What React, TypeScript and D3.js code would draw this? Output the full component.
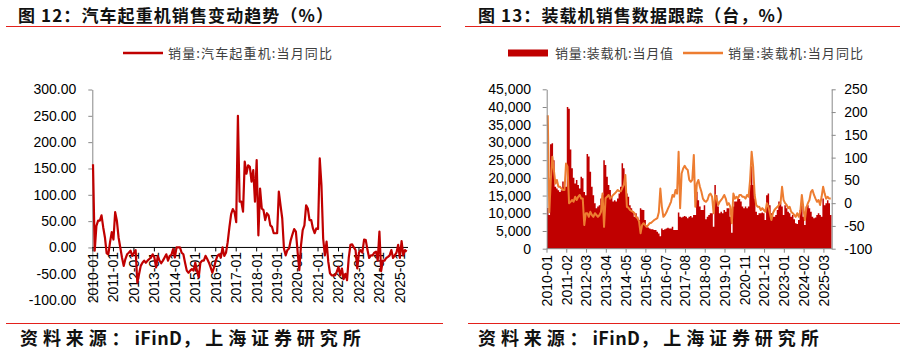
import { useEffect, useRef } from "react"
import * as d3 from "d3"

// 汽车起重机销量当月同比（%），2010-01 ~ 2025-05
const craneYoY = [
  158, -6, 41, 51, 51, 61, 38, 19, -11, -13, 10, 29, 15, 67, 51, 19, 0, -19, -35, -22,
  -13, -10, -6, -16, -10, -5, -67, -51, -35, -29, -25, -29, -25, -22, -19, -13, -19, -38, -16, -25,
  -30, -25, -19, -13, -25, -16, -14, -3, -19, 0, 0, 0, -10, -13, -29, -44, -48, -44, -41, -44,
  -29, -44, -57, -29, -25, -25, -16, -22, -29, -38, -48, -38, -25, -16, -13, -19, 0, -16, -10, 10,
  38, 63, 73, 67, 48, 250, 87, 87, 68, 163, 140, 156, 153, 125, 147, 87, 166, 23, 112, 74,
  71, 52, 65, 61, 42, 39, 27, 27, 27, 106, 80, 55, -2, -15, -5, -2, 14, 25, 35, 30,
  -8, -43, 4, 33, 42, 80, 74, 52, 52, 36, 27, 36, 35, 169, 118, 17, -15, 11, -27, -49,
  -53, -53, -53, -46, -37, -53, -40, -60, -50, -62, -20, 5, 6, 0, -5, -40, -10, -5, -10, 15,
  14, -5, -20, -15, -15, -10, -8, -25, 30, -45, -25, -25, -20, -18, -15, -5, -20, -15, -10, 5,
  -20, 12, -15, -5, -8,
]
const craneTicks = [
  "2010-01", "2011-01", "2012-01", "2013-01", "2014-01", "2015-01", "2016-01", "2017-01",
  "2018-01", "2019-01", "2020-01", "2021-01", "2022-01", "2023-01", "2024-01", "2025-01",
]
const craneYTicks = [-100, -50, 0, 50, 100, 150, 200, 250, 300]

// 装载机销量当月值（台），2010-01 ~ 2025-07
const loaderSales = [
  11500, 9500, 29500, 29800, 25000, 17500, 17000, 16500, 16000, 16500, 19000, 17500, 17500, 40000, 39500, 28000, 22700, 20000, 18400, 19400,
  18000, 17000, 20300, 19900, 16000, 15100, 26700, 26000, 21700, 17500, 15100, 12800, 11400, 11900, 12300, 14200, 15100, 25000, 23600, 20300,
  18000, 16600, 14700, 13300, 13700, 13300, 14200, 15600, 17500, 24100, 22700, 18900, 15600, 14700, 12300, 11400, 10400, 9000, 10000, 9000,
  8100, 11400, 11000, 10900, 8100, 6500, 6000, 5700, 5500, 5500, 5300, 5300, 4800, 4300, 3500, 5700, 5300, 5500, 5700, 5900,
  5700, 5700, 6200, 5300, 5300, 5300, 10200, 9000, 8800, 9000, 9200, 9000, 8600, 9000, 9200, 8800, 9500, 9500, 16100, 13700,
  11900, 10900, 10900, 12300, 8300, 9000, 9500, 10000, 10000, 6200, 18000, 15100, 11900, 10000, 10400, 10000, 10900, 10400, 11400, 11400,
  9000, 4500, 11900, 13300, 13300, 14700, 14000, 13300, 11900, 11400, 11900, 11400, 11900, 18000, 23300, 18000, 14200, 10400, 9500, 10000,
  10000, 10200, 10000, 8100, 15100, 15600, 12300, 10000, 9000, 9000, 9500, 10900, 13300, 13000, 11900, 9500, 12300, 11400, 10400, 10000,
  9000, 9500, 8300, 7200, 7000, 8100, 10900, 12300, 9000, 6700, 11900, 12300, 11400, 10400, 9000, 8600, 8800, 9500, 10000, 9500,
  9000, 14200, 12300, 12800, 13700, 12800, 9500,
]
// 装载机销量当月同比（%）
const loaderYoY = [
  193, -20, 51, 102, 73, 43, 51, 36, 36, 32, 29, 29, 87, 80, 0, 3, 7, 3, 14, 7,
  14, 18, 10, 10, -48, -22, -22, -30, -19, -26, -30, -22, -26, -30, -26, -19, 21, -52, 11, 14,
  18, 10, 14, 18, 21, 25, 29, 26, 26, 33, 40, 62, -8, -10, -15, -17, -19, -22, -30, -33,
  -40, -66, -48, -44, -48, -52, -48, -44, -43, -40, -37, -35, -33, -20, 32, -8, -30, -26, -20, -12,
  -5, 3, 18, 14, 29, 21, 113, -11, 65, 76, 82, 76, 73, 51, 47, 51, 106, -8, 43, 51,
  36, 25, 10, 5, 3, 7, 18, 21, 14, -22, 18, 10, -4, 3, 7, 12, 18, 10, -4, 0,
  -8, -44, 21, 10, 14, 10, 18, 18, 14, 14, 10, 18, 14, 51, 113, 80, 18, -4, -8, -8,
  -15, -11, -15, -19, 0, -8, -22, -37, -22, -15, -11, -8, -4, 0, 36, 7, 0, -4, -11, -8,
  -19, -22, -26, -30, -22, -30, -19, 18, -10, -37, -10, 0, 7, 25, 29, 18, 10, 3, 7, -4,
  14, 36, 21, 10, 14, 10, 10,
]
const loaderTicks = [
  "2010-01", "2011-02", "2012-03", "2013-04", "2014-05", "2015-06", "2016-07", "2017-08",
  "2018-09", "2019-10", "2020-11", "2021-12", "2023-01", "2024-02", "2025-03",
]
const loaderYTicks = [0, 5000, 10000, 15000, 20000, 25000, 30000, 35000, 40000, 45000]
const loaderYoYTicks = [-100, -50, 0, 50, 100, 150, 200, 250]

const CJK = "'Noto Sans CJK SC', 'Noto Sans', sans-serif"
const NUM = "'Liberation Sans', Arial, sans-serif"
const DARK_RED = "#C00000"
const ORANGE = "#ED7D31"
const RULE_RED = "#E3201B"
const AXIS_GRAY = "#888888"

export default function App() {
  const svgRef = useRef<SVGSVGElement>(null)

  useEffect(() => {
    if (!svgRef.current) return
    const svg = d3.select(svgRef.current)
    svg.selectAll("*").remove()

    // ---- headers and footers ----
    const header = (x: number, len: number, text: string) =>
      svg.append("text")
        .attr("x", x).attr("y", 21.5)
        .attr("font-family", CJK).attr("font-weight", 700).attr("font-size", 17)
        .attr("textLength", len).attr("lengthAdjust", "spacing")
        .attr("fill", "#111").text(text)
    header(18, 315, "图 12：汽车起重机销售变动趋势（%）")
    header(478, 315, "图 13：装载机销售数据跟踪（台，%）")

    const rule = (x1: number, x2: number, y: number) =>
      svg.append("line").attr("x1", x1).attr("x2", x2).attr("y1", y).attr("y2", y)
        .attr("stroke", RULE_RED).attr("stroke-width", 1.2)
    rule(6, 441, 26.5)
    rule(465, 900, 26.5)
    rule(6, 443, 323.5)
    rule(468, 900, 323.5)

    // footer: wide spacing on the CJK parts, tight on "iFinD"
    const footer = (x: number) => {
      const t = svg.append("text")
        .attr("x", x).attr("y", 345)
        .attr("font-family", CJK).attr("font-weight", 700).attr("font-size", 18)
        .attr("fill", "#111")
      t.append("tspan").attr("letter-spacing", 4.9).text("资料来源：")
      t.append("tspan").attr("letter-spacing", 0.4).text("iFinD")
      t.append("tspan").attr("letter-spacing", 4.9).text("，上海证券研究所")
    }
    footer(20)
    footer(478)

    const legendText = (x: number, len: number, text: string) =>
      svg.append("text")
        .attr("x", x).attr("y", 57.5)
        .attr("font-family", CJK).attr("font-size", 13)
        .attr("textLength", len).attr("lengthAdjust", "spacing")
        .attr("fill", "#404040").text(text)

    // ---- left chart: crane YoY ----
    const xL = d3.scaleLinear().domain([0, craneYoY.length - 1]).range([93, 406.7])
    const yL = d3.scaleLinear().domain([-100, 300]).range([300.1, 89.5])

    svg.append("line").attr("x1", 123).attr("x2", 163).attr("y1", 53).attr("y2", 53)
      .attr("stroke", DARK_RED).attr("stroke-width", 2.5)
    legendText(168, 164, "销量:汽车起重机:当月同比")

    const yAxisL = svg.append("g")
      .attr("transform", "translate(92.3,0)")
      .call(
        d3.axisLeft(yL).tickValues(craneYTicks).tickSize(4).tickSizeOuter(0).tickPadding(12)
          .tickFormat((d) => (+d).toFixed(2)),
      )
    styleAxis(yAxisL, "end")

    const zeroL = yL(0)
    svg.append("line").attr("x1", 92.3).attr("x2", 408).attr("y1", zeroL).attr("y2", zeroL)
      .attr("stroke", "#000").attr("stroke-width", 1)
    craneTicks.forEach((label, k) => {
      const x = xL(k * 12)
      svg.append("line").attr("x1", x).attr("x2", x).attr("y1", zeroL).attr("y2", zeroL + 4)
        .attr("stroke", "#000")
      svg.append("text")
        .attr("transform", `translate(${x},${zeroL + 4.5}) rotate(-90)`)
        .attr("text-anchor", "end").attr("dy", "0.35em")
        .attr("font-family", NUM).attr("font-size", 14).attr("fill", "#000")
        .text(label)
    })

    const lineL = d3.line<number>().x((_, i) => xL(i)).y((d) => yL(d)).curve(d3.curveLinear)
    svg.append("path").datum(craneYoY).attr("d", lineL)
      .attr("fill", "none").attr("stroke", DARK_RED).attr("stroke-width", 2.2)
      .attr("stroke-linejoin", "round")

    // ---- right chart: loader sales + YoY ----
    const xR = d3.scaleBand<number>().domain(d3.range(loaderSales.length)).range([547, 831.5]).padding(0)
    const bw = xR.bandwidth()
    const ySales = d3.scaleLinear().domain([0, 45000]).range([248.7, 89.3])
    const yYoY = d3.scaleLinear().domain([-100, 250]).range([248.7, 89.3])

    svg.append("rect").attr("x", 508).attr("y", 49.5).attr("width", 40).attr("height", 7).attr("fill", DARK_RED)
    legendText(555, 118, "销量:装载机:当月值")
    svg.append("line").attr("x1", 683).attr("x2", 723).attr("y1", 53).attr("y2", 53)
      .attr("stroke", ORANGE).attr("stroke-width", 2.5)
    legendText(728, 135, "销量:装载机:当月同比")

    // all bars in one path so neighbouring bars don't leave anti-aliasing seams
    const barPath = d3.path()
    loaderSales.forEach((v, i) => {
      barPath.rect(xR(i)!, ySales(v), bw, ySales(0) - ySales(v))
    })
    svg.append("path").attr("d", barPath.toString()).attr("fill", DARK_RED)

    const lineR = d3.line<number>().x((_, i) => xR(i)! + bw / 2).y((d) => yYoY(d))
    svg.append("path").datum(loaderYoY).attr("d", lineR)
      .attr("fill", "none").attr("stroke", ORANGE).attr("stroke-width", 2)
      .attr("stroke-linejoin", "round")

    const axL = svg.append("g").attr("transform", "translate(546.7,0)")
      .call(d3.axisLeft(ySales).tickValues(loaderYTicks).tickSize(4).tickSizeOuter(0).tickPadding(11.7)
        .tickFormat((d) => d3.format(",")(+d)))
    styleAxis(axL, "end")
    const axR = svg.append("g").attr("transform", "translate(831.7,0)")
      .call(d3.axisRight(yYoY).tickValues(loaderYoYTicks).tickSize(4).tickSizeOuter(0).tickPadding(8.6)
        .tickFormat((d) => String(d)))
    styleAxis(axR, "start")

    const baseR = ySales(0)
    svg.append("line").attr("x1", 546.7).attr("x2", 831.7).attr("y1", baseR).attr("y2", baseR)
      .attr("stroke", AXIS_GRAY).attr("stroke-width", 1)
    loaderTicks.forEach((label, k) => {
      const x = xR(k * 13)!
      svg.append("line").attr("x1", x).attr("x2", x).attr("y1", baseR).attr("y2", baseR + 4)
        .attr("stroke", AXIS_GRAY)
      svg.append("text")
        .attr("transform", `translate(${x},${baseR + 6.3}) rotate(-90)`)
        .attr("text-anchor", "end").attr("dy", "0.35em")
        .attr("font-family", NUM).attr("font-size", 14).attr("fill", "#000")
        .text(label)
    })
  }, [])

  function styleAxis(g: d3.Selection<SVGGElement, unknown, null, undefined>, anchor: string) {
    g.select(".domain").attr("stroke", AXIS_GRAY).attr("stroke-width", 1)
    g.selectAll(".tick line").attr("stroke", AXIS_GRAY)
    g.selectAll(".tick text")
      .attr("font-family", NUM).attr("font-size", 14).attr("fill", "#000")
      .attr("text-anchor", anchor)
    g.attr("font-size", null).attr("font-family", null)
  }

  return (
    <div style={{ position: "absolute", left: 0, top: 0 }}>
      <svg ref={svgRef} width={905} height={355} style={{ display: "block", background: "#fff" }} />
    </div>
  )
}
